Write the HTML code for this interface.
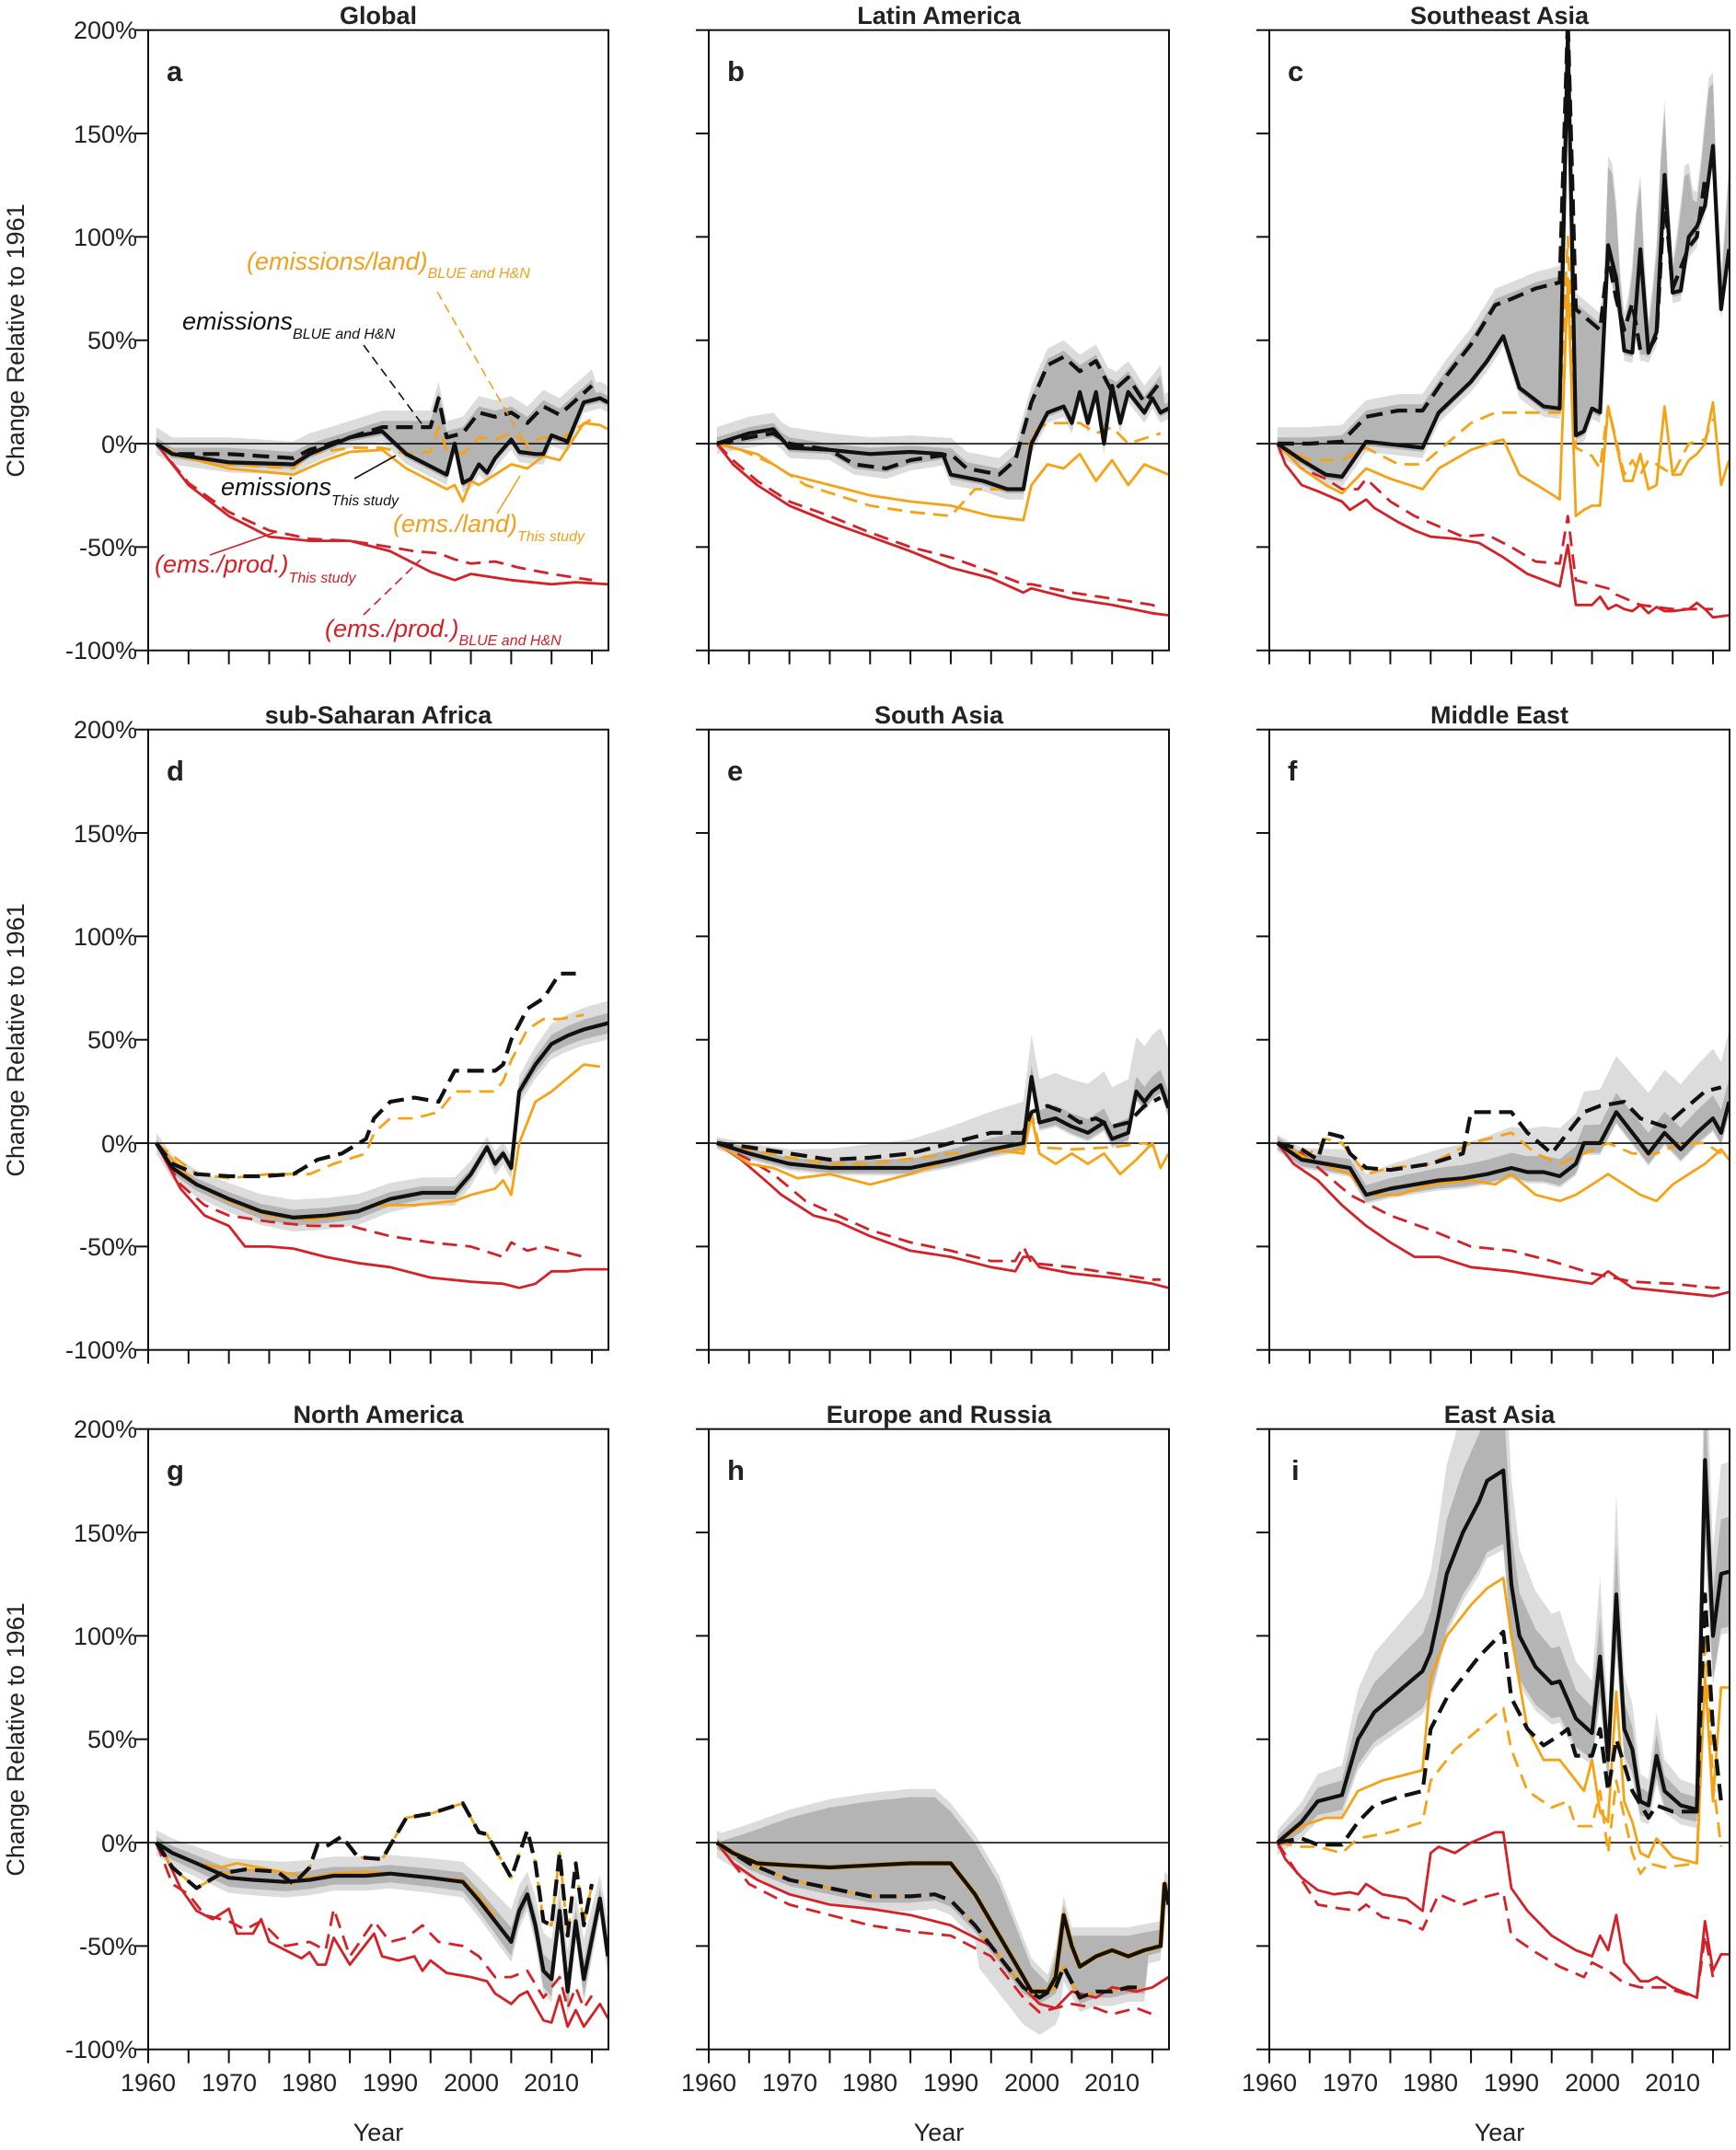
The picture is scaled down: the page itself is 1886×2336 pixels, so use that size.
<!DOCTYPE html>
<html><head><meta charset="utf-8">
<style>
html,body{margin:0;padding:0;background:#fff;}
svg{display:block;font-family:"Liberation Sans",Arial,sans-serif;}
.tl{font-size:27px;fill:#222;}
.ti{font-size:27px;font-weight:bold;fill:#222;}
.lt{font-size:31px;font-weight:bold;fill:#222;}
.it{font-style:italic;}
</style></head>
<body>
<svg id="s" width="1886" height="2336" viewBox="0 0 1886 2336" xmlns="http://www.w3.org/2000/svg">
<rect width="1886" height="2336" fill="#fff"/>
<g id="plots"></g>
<!-- titles -->
<text class="ti" x="411" y="26" text-anchor="middle">Global</text>
<text class="ti" x="1020" y="26" text-anchor="middle">Latin America</text>
<text class="ti" x="1629" y="26" text-anchor="middle">Southeast Asia</text>
<text class="ti" x="411" y="786" text-anchor="middle">sub-Saharan Africa</text>
<text class="ti" x="1020" y="786" text-anchor="middle">South Asia</text>
<text class="ti" x="1629" y="786" text-anchor="middle">Middle East</text>
<text class="ti" x="411" y="1546" text-anchor="middle">North America</text>
<text class="ti" x="1020" y="1546" text-anchor="middle">Europe and Russia</text>
<text class="ti" x="1629" y="1546" text-anchor="middle">East Asia</text>
<!-- letters -->
<text class="lt" x="181" y="88">a</text>
<text class="lt" x="790" y="88">b</text>
<text class="lt" x="1399" y="88">c</text>
<text class="lt" x="181" y="848">d</text>
<text class="lt" x="790" y="848">e</text>
<text class="lt" x="1399" y="848">f</text>
<text class="lt" x="181" y="1608">g</text>
<text class="lt" x="790" y="1608">h</text>
<text class="lt" x="1403" y="1608">i</text>
<!-- y tick labels -->
<g class="tl" text-anchor="end">
<text x="149" y="42">200%</text><text x="149" y="155">150%</text><text x="149" y="267">100%</text><text x="149" y="379">50%</text><text x="149" y="492">0%</text><text x="149" y="604">-50%</text><text x="149" y="716">-100%</text>
<text x="149" y="802">200%</text><text x="149" y="915">150%</text><text x="149" y="1027">100%</text><text x="149" y="1139">50%</text><text x="149" y="1252">0%</text><text x="149" y="1364">-50%</text><text x="149" y="1476">-100%</text>
<text x="149" y="1562">200%</text><text x="149" y="1675">150%</text><text x="149" y="1787">100%</text><text x="149" y="1899">50%</text><text x="149" y="2012">0%</text><text x="149" y="2124">-50%</text><text x="149" y="2236">-100%</text>
</g>
<!-- y axis titles -->
<g class="tl">
<text transform="translate(26,370) rotate(-90)" text-anchor="middle">Change Relative to 1961</text>
<text transform="translate(26,1130) rotate(-90)" text-anchor="middle">Change Relative to 1961</text>
<text transform="translate(26,1890) rotate(-90)" text-anchor="middle">Change Relative to 1961</text>
</g>
<!-- x tick labels -->
<g class="tl" text-anchor="middle">
<text x="161" y="2272">1960</text><text x="249" y="2272">1970</text><text x="336" y="2272">1980</text><text x="424" y="2272">1990</text><text x="512" y="2272">2000</text><text x="599" y="2272">2010</text>
<text x="770" y="2272">1960</text><text x="858" y="2272">1970</text><text x="945" y="2272">1980</text><text x="1033" y="2272">1990</text><text x="1121" y="2272">2000</text><text x="1208" y="2272">2010</text>
<text x="1379" y="2272">1960</text><text x="1467" y="2272">1970</text><text x="1554" y="2272">1980</text><text x="1642" y="2272">1990</text><text x="1730" y="2272">2000</text><text x="1817" y="2272">2010</text>
<text x="411" y="2326">Year</text><text x="1020" y="2326">Year</text><text x="1629" y="2326">Year</text>
</g>
<!-- annotations panel a -->
<g class="it">
<text x="268" y="293" fill="#f0a01e" font-size="27">(emissions/land)<tspan font-size="16" dy="9">BLUE and H&amp;N</tspan></text>
<text x="198" y="358" fill="#111" font-size="27">emissions<tspan font-size="16" dy="10">BLUE and H&amp;N</tspan></text>
<text x="240" y="538" fill="#111" font-size="27">emissions<tspan font-size="16" dy="11">This study</tspan></text>
<text x="427" y="578" fill="#f0a01e" font-size="27">(ems./land)<tspan font-size="16" dy="10">This study</tspan></text>
<text x="168" y="622" fill="#d42027" font-size="27">(ems./prod.)<tspan font-size="16" dy="11">This study</tspan></text>
<text x="353" y="692" fill="#d42027" font-size="27">(ems./prod.)<tspan font-size="16" dy="9">BLUE and H&amp;N</tspan></text>
</g>
<g fill="none" stroke-width="1.6">
<line x1="395" y1="375" x2="460" y2="463" stroke="#111" stroke-dasharray="10,6"/>
<line x1="475" y1="317" x2="575" y2="490" stroke="#f0a01e" stroke-dasharray="10,6"/>
<line x1="385" y1="520" x2="430" y2="495" stroke="#111"/>
<line x1="540" y1="558" x2="565" y2="517" stroke="#f0a01e"/>
<line x1="228" y1="603" x2="300" y2="578" stroke="#d42027"/>
<line x1="395" y1="668" x2="457" y2="608" stroke="#d42027" stroke-dasharray="10,6"/>
</g>
</svg>
<script>
(function(){
var NS="http://www.w3.org/2000/svg";
var T=[32.7,792.7,1552.7],L=[161,770,1379],W=500,H=674,PY=H/300,PX=8.764;
var RED="#d42027",OR="#f5a214",BK="#111";
var root=document.getElementById("plots");
function el(n,a,p){var e=document.createElementNS(NS,n);for(var k in a)e.setAttribute(k,a[k]);(p||root).appendChild(e);return e;}
function itp(s,y){if(!s||y<s[0][0]-1e-9||y>s[s.length-1][0]+1e-9)return null;for(var i=0;i<s.length-1;i++){if(y>=s[i][0]&&y<=s[i+1][0]){var t=(y-s[i][0])/((s[i+1][0]-s[i][0])||1);return s[i][1]+t*(s[i+1][1]-s[i][1]);}}return s[s.length-1][1];}
var P={};
P.a={bs:[[1961,0],[1963,-5],[1970,-9],[1978,-10],[1980,-5],[1985,3],[1989,6],[1992,-5],[1997,-15],[1998,0],[1999,-19],[2000,-17],[2001,-10],[2002,-14],[2003,-7],[2005,2],[2006,-4],[2008,-5],[2009,-5],[2010,4],[2012,1],[2014,20],[2016,22],[2017,20]],
bd:[[1961,0],[1963,-5],[1970,-5],[1978,-7],[1980,-3],[1985,3],[1989,8],[1995,8],[1996,22],[1997,3],[1999,5],[2001,15],[2003,13],[2005,15],[2007,10],[2009,18],[2011,14],[2015,28]],
os:[[1961,0],[1964,-6],[1970,-12],[1978,-15],[1982,-8],[1985,-4],[1989,-3],[1992,-12],[1997,-22],[1998,-20],[1999,-28],[2000,-18],[2001,-20],[2003,-15],[2005,-10],[2007,-12],[2009,-6],[2011,-8],[2014,10],[2016,9],[2017,7]],
od:[[1961,0],[1963,-5],[1970,-10],[1978,-12],[1980,-5],[1985,-2],[1989,-2],[1992,-5],[1995,-4],[1996,8],[1997,-3],[1999,-5],[2001,3],[2003,2],[2005,5],[2007,0],[2009,3],[2011,2],[2015,12]],
rs:[[1961,0],[1965,-20],[1970,-35],[1975,-45],[1980,-47],[1985,-47],[1990,-52],[1995,-62],[1998,-66],[2000,-63],[2005,-66],[2010,-68],[2013,-67],[2017,-68]],
rd:[[1961,0],[1965,-19],[1970,-33],[1975,-42],[1980,-46],[1985,-47],[1990,-50],[1993,-52],[1996,-53],[1998,-56],[2000,-58],[2003,-57],[2006,-60],[2010,-63],[2015,-66]],band:"between"};
P.b={bs:[[1961,0],[1965,5],[1968,7],[1970,-2],[1975,-3],[1980,-5],[1985,-4],[1989,-5],[1990,-15],[1994,-18],[1997,-22],[1999,-22],[2000,0],[2002,15],[2004,18],[2005,10],[2006,25],[2007,10],[2008,25],[2009,0],[2010,28],[2011,10],[2012,25],[2014,15],[2015,22],[2016,15],[2017,17]],
bd:[[1961,0],[1965,3],[1968,5],[1970,0],[1975,-3],[1978,-10],[1982,-12],[1985,-8],[1990,-5],[1992,-12],[1996,-15],[1998,-8],[2000,20],[2002,38],[2004,42],[2006,35],[2008,40],[2010,25],[2012,32],[2014,20],[2016,30]],
os:[[1961,0],[1966,-5],[1970,-15],[1975,-20],[1980,-25],[1985,-28],[1990,-30],[1995,-35],[1999,-37],[2000,-20],[2002,-10],[2004,-12],[2006,-5],[2008,-18],[2010,-8],[2012,-20],[2014,-10],[2017,-15]],
od:[[1961,0],[1964,-3],[1968,-10],[1972,-20],[1980,-30],[1985,-33],[1990,-35],[1993,-22],[1999,-22],[2000,5],[2002,10],[2006,10],[2008,5],[2010,8],[2012,0],[2016,5]],
rs:[[1961,0],[1963,-10],[1966,-20],[1970,-30],[1975,-38],[1980,-45],[1985,-52],[1990,-60],[1995,-65],[1999,-72],[2000,-70],[2005,-75],[2010,-78],[2015,-82],[2017,-83]],
rd:[[1961,0],[1963,-8],[1966,-18],[1970,-28],[1975,-35],[1980,-43],[1985,-50],[1990,-55],[1995,-62],[1999,-68],[2000,-68],[2005,-72],[2010,-75],[2015,-78],[2016,-80]],band:"between"};
P.c={bs:[[1961,0],[1964,-8],[1967,-15],[1969,-16],[1972,1],[1979,-2],[1981,15],[1985,30],[1987,40],[1989,52],[1991,27],[1994,18],[1996,17],[1997,198],[1998,4],[1999,6],[2000,17],[2001,15],[2002,96],[2003,80],[2004,45],[2005,44],[2006,94],[2007,44],[2008,54],[2009,130],[2010,73],[2011,74],[2012,100],[2013,105],[2014,115],[2015,144],[2016,65],[2017,94]],
bd:[[1961,0],[1965,0],[1969,1],[1972,13],[1976,16],[1979,16],[1982,33],[1985,48],[1988,67],[1990,70],[1993,75],[1996,78],[1997,205],[1998,65],[2001,55],[2002,90],[2003,70],[2004,55],[2005,68],[2006,45],[2007,45],[2008,52],[2009,120],[2010,75],[2011,85],[2012,95],[2013,100],[2014,128]],
os:[[1961,0],[1964,-12],[1967,-20],[1969,-24],[1972,-12],[1975,-17],[1979,-22],[1981,-12],[1985,-3],[1988,1],[1989,2],[1991,-15],[1994,-22],[1996,-27],[1997,80],[1998,-35],[1999,-32],[2000,-30],[2001,-30],[2002,18],[2003,0],[2004,-18],[2005,-18],[2006,-5],[2007,-22],[2008,-20],[2009,18],[2010,-15],[2011,-15],[2012,-8],[2013,-5],[2014,0],[2015,20],[2016,-20],[2017,-8]],
od:[[1961,0],[1965,-8],[1969,-8],[1972,-2],[1976,-10],[1979,-10],[1982,0],[1985,10],[1988,15],[1990,15],[1996,15],[1997,100],[1998,-2],[2000,-6],[2001,-12],[2002,18],[2004,-15],[2005,-8],[2006,-15],[2007,-8],[2008,-10],[2010,-15],[2012,0],[2014,2],[2015,12]],
rs:[[1961,0],[1962,-10],[1964,-20],[1966,-23],[1969,-28],[1970,-32],[1972,-27],[1973,-31],[1976,-38],[1978,-42],[1980,-45],[1983,-46],[1986,-48],[1989,-55],[1992,-63],[1996,-69],[1997,-49],[1998,-78],[2000,-78],[2001,-74],[2002,-80],[2003,-78],[2004,-80],[2005,-81],[2006,-78],[2007,-82],[2008,-79],[2009,-81],[2010,-81],[2012,-80],[2013,-77],[2014,-80],[2015,-84],[2017,-83]],
rd:[[1961,0],[1964,-12],[1967,-17],[1969,-22],[1971,-22],[1972,-17],[1975,-28],[1978,-35],[1981,-40],[1984,-45],[1987,-44],[1990,-50],[1993,-57],[1996,-58],[1997,-35],[1998,-66],[2000,-68],[2002,-70],[2003,-73],[2006,-78],[2010,-80],[2015,-80]],band:"between",extra:40};
P.d={bs:[[1961,0],[1963,-12],[1966,-20],[1970,-27],[1974,-33],[1978,-36],[1982,-35],[1986,-33],[1990,-27],[1994,-24],[1998,-24],[2000,-15],[2002,-2],[2003,-10],[2004,-5],[2005,-12],[2006,25],[2008,38],[2010,48],[2012,52],[2014,55],[2017,58]],
bd:[[1961,0],[1963,-10],[1966,-15],[1970,-16],[1974,-16],[1978,-15],[1981,-8],[1984,-5],[1987,2],[1988,12],[1990,20],[1993,22],[1996,20],[1998,35],[2001,35],[2003,35],[2004,38],[2005,50],[2007,65],[2009,70],[2011,82],[2013,82]],
os:[[1961,0],[1966,-20],[1970,-28],[1975,-35],[1980,-37],[1984,-35],[1988,-30],[1993,-30],[1998,-28],[2000,-25],[2003,-22],[2004,-18],[2005,-25],[2006,0],[2008,20],[2010,25],[2014,38],[2016,37]],
od:[[1961,0],[1966,-15],[1970,-17],[1975,-15],[1980,-15],[1983,-10],[1987,-5],[1988,5],[1990,12],[1993,12],[1996,15],[1998,25],[2003,25],[2004,30],[2005,40],[2007,55],[2009,60],[2011,60],[2014,62]],
rs:[[1961,0],[1964,-22],[1967,-35],[1970,-40],[1972,-50],[1975,-50],[1978,-51],[1982,-55],[1986,-58],[1990,-60],[1995,-65],[2000,-67],[2004,-68],[2006,-70],[2008,-68],[2010,-62],[2012,-62],[2014,-61],[2017,-61]],
rd:[[1961,0],[1964,-20],[1967,-30],[1970,-35],[1975,-38],[1980,-40],[1985,-40],[1990,-45],[1995,-48],[2000,-50],[2004,-55],[2005,-48],[2007,-52],[2009,-50],[2012,-53],[2014,-55]],band:[2,0.05,0,5,0.1,0]};
P.e={bs:[[1961,0],[1965,-5],[1970,-10],[1975,-12],[1980,-12],[1985,-12],[1990,-8],[1995,-3],[1999,0],[2000,32],[2001,10],[2003,12],[2005,8],[2007,5],[2009,10],[2010,2],[2012,5],[2013,25],[2014,20],[2015,25],[2016,28],[2017,17]],
bd:[[1961,0],[1965,-2],[1970,-5],[1975,-8],[1980,-7],[1985,-5],[1990,0],[1995,5],[1999,5],[2000,15],[2002,18],[2004,15],[2006,10],[2008,12],[2010,8],[2012,10],[2014,18],[2016,22]],
os:[[1961,0],[1965,-10],[1968,-12],[1971,-17],[1975,-15],[1980,-20],[1985,-15],[1990,-8],[1995,-3],[1999,-5],[2000,13],[2001,-5],[2003,-10],[2005,-5],[2007,-10],[2009,-5],[2011,-15],[2013,-8],[2015,0],[2016,-12],[2017,-5]],
od:[[1961,0],[1965,-3],[1970,-7],[1975,-10],[1980,-10],[1990,-5],[1999,-3],[2000,15],[2001,-2],[2005,-3],[2010,-2],[2014,0],[2016,-3]],
rs:[[1961,0],[1964,-8],[1967,-18],[1969,-25],[1971,-30],[1973,-35],[1976,-38],[1980,-45],[1985,-52],[1990,-55],[1995,-60],[1998,-62],[1999,-55],[2000,-55],[2001,-60],[2005,-63],[2010,-65],[2015,-68],[2017,-70]],
rd:[[1961,0],[1965,-8],[1968,-15],[1972,-28],[1976,-35],[1980,-42],[1985,-48],[1990,-52],[1995,-57],[1998,-57],[1999,-50],[2000,-58],[2005,-60],[2010,-63],[2015,-66],[2016,-66]],band:[2,0,0.1,3,0,0.45]};
P.f={bs:[[1961,0],[1964,-8],[1967,-10],[1970,-12],[1972,-25],[1975,-22],[1978,-20],[1981,-18],[1984,-17],[1987,-15],[1990,-12],[1992,-14],[1994,-14],[1996,-16],[1998,-10],[1999,0],[2001,0],[2003,15],[2005,5],[2007,-5],[2009,5],[2011,-3],[2013,5],[2015,12],[2016,5],[2017,20]],
bd:[[1961,0],[1964,-3],[1966,-8],[1967,5],[1969,3],[1970,-5],[1972,-12],[1975,-13],[1980,-10],[1984,-5],[1985,15],[1990,15],[1992,5],[1995,-5],[1997,5],[1999,15],[2001,18],[2004,20],[2006,12],[2009,8],[2011,15],[2014,25],[2016,27]],
os:[[1961,0],[1965,-8],[1970,-15],[1972,-25],[1976,-25],[1980,-20],[1985,-18],[1988,-20],[1990,-15],[1993,-25],[1996,-28],[1998,-25],[2000,-20],[2002,-15],[2004,-20],[2006,-25],[2008,-28],[2010,-20],[2012,-15],[2014,-10],[2016,-3],[2017,-8]],
od:[[1961,0],[1965,-5],[1967,2],[1969,0],[1972,-15],[1975,-12],[1980,-10],[1985,0],[1990,5],[1993,-5],[1996,-10],[1999,-5],[2002,0],[2005,-5],[2008,-5],[2011,0],[2014,0],[2016,-5]],
rs:[[1961,0],[1963,-10],[1966,-18],[1969,-30],[1972,-40],[1975,-48],[1978,-55],[1981,-55],[1985,-60],[1990,-62],[1995,-65],[2000,-68],[2002,-62],[2005,-70],[2010,-72],[2015,-74],[2017,-72]],
rd:[[1961,0],[1964,-5],[1967,-15],[1970,-25],[1975,-35],[1980,-42],[1985,-50],[1990,-52],[1995,-57],[2000,-63],[2005,-67],[2010,-68],[2015,-70],[2016,-70]],band:[3,0,0.15,4,0,0.55]};
var gd=[[1961,0],[1963,-12],[1966,-22],[1969,-15],[1972,-13],[1976,-14],[1978,-20],[1980,-12],[1981,-1],[1982,-2],[1984,3],[1986,-7],[1989,-8],[1992,12],[1995,14],[1999,19],[2001,5],[2002,4],[2005,-17],[2007,6],[2008,-10],[2009,-38],[2010,-40],[2011,-5],[2012,-45],[2013,-10],[2014,-40],[2015,-20]];
P.g={bs:[[1961,0],[1963,-5],[1966,-10],[1970,-17],[1973,-18],[1977,-19],[1980,-18],[1983,-16],[1987,-16],[1990,-15],[1995,-17],[1999,-19],[2001,-28],[2003,-38],[2005,-48],[2006,-33],[2007,-25],[2008,-40],[2009,-62],[2010,-66],[2011,-33],[2012,-72],[2013,-38],[2014,-66],[2016,-27],[2017,-55]],
bd:gd,od:gd,
os:[[1961,0],[1963,-5],[1966,-10],[1969,-12],[1971,-10],[1975,-13],[1980,-17],[1983,-15],[1987,-14],[1990,-15],[1995,-17],[1999,-18],[2001,-26],[2003,-36]],
rs:[[1961,0],[1962,-5],[1964,-22],[1966,-33],[1968,-37],[1970,-32],[1971,-44],[1973,-44],[1974,-37],[1975,-48],[1977,-52],[1979,-56],[1980,-53],[1981,-59],[1982,-59],[1983,-46],[1985,-59],[1988,-44],[1989,-55],[1991,-57],[1993,-55],[1994,-62],[1995,-57],[1997,-63],[2000,-65],[2002,-67],[2003,-73],[2005,-78],[2006,-74],[2007,-72],[2009,-86],[2010,-87],[2011,-74],[2012,-89],[2013,-81],[2014,-89],[2016,-78],[2017,-85]],
rd:[[1961,0],[1963,-20],[1965,-25],[1967,-35],[1970,-38],[1972,-42],[1974,-38],[1977,-50],[1980,-48],[1982,-52],[1983,-32],[1985,-55],[1988,-38],[1990,-48],[1992,-46],[1994,-40],[1996,-48],[1999,-50],[2001,-55],[2003,-65],[2005,-65],[2007,-62],[2009,-75],[2011,-65],[2012,-80],[2013,-70],[2014,-80],[2015,-74]],band:[3,0.08,0,6,0.2,0]};
var hs=[[1961,0],[1963,-5],[1966,-10],[1970,-11],[1975,-12],[1980,-11],[1985,-10],[1990,-10],[1993,-25],[1996,-45],[1999,-65],[2000,-72],[2002,-72],[2003,-65],[2004,-35],[2005,-50],[2006,-60],[2008,-55],[2010,-52],[2012,-55],[2014,-52],[2016,-50],[2016.5,-20],[2017,-30]];
var hd=[[1961,0],[1965,-10],[1970,-18],[1975,-22],[1980,-26],[1985,-26],[1988,-25],[1990,-28],[1993,-40],[1996,-55],[1999,-70],[2001,-75],[2003,-70],[2004,-60],[2006,-75],[2008,-72],[2010,-72],[2012,-70],[2014,-70]];
P.h={bs:hs,bd:hd,os:hs,od:hd,
rs:[[1961,0],[1963,-10],[1966,-18],[1970,-25],[1975,-30],[1980,-32],[1985,-35],[1990,-40],[1995,-50],[1999,-70],[2001,-78],[2003,-80],[2005,-72],[2008,-75],[2010,-70],[2013,-72],[2015,-70],[2017,-65]],
rd:[[1961,0],[1965,-20],[1970,-30],[1975,-35],[1980,-40],[1985,-43],[1990,-45],[1995,-55],[1999,-75],[2001,-82],[2003,-80],[2005,-78],[2008,-80],[2010,-83],[2013,-80],[2015,-83]],
band:"h",hup:[[1961,0],[1965,5],[1970,12],[1975,17],[1980,20],[1985,22],[1988,22],[1990,15],[1993,0],[1996,-20],[1998,-40],[2000,-60],[2002,-68],[2003,-55],[2004,-30],[2005,-45],[2008,-45],[2012,-45],[2016,-42],[2017,-20]]};
P.i={bs:[[1961,0],[1964,10],[1966,20],[1969,23],[1971,50],[1973,63],[1976,73],[1979,83],[1980,92],[1981,110],[1982,130],[1984,150],[1986,165],[1987,175],[1989,180],[1990,125],[1991,100],[1993,85],[1995,77],[1996,78],[1998,60],[2000,53],[2001,90],[2002,40],[2003,120],[2004,55],[2005,45],[2006,20],[2007,18],[2008,42],[2009,25],[2011,18],[2013,16],[2014,185],[2015,100],[2016,130],[2017,131]],
bd:[[1961,0],[1964,2],[1966,-1],[1969,-1],[1971,10],[1973,18],[1976,22],[1979,25],[1980,55],[1982,70],[1984,80],[1986,90],[1989,102],[1990,70],[1992,55],[1994,47],[1996,52],[1997,55],[1998,42],[2000,42],[2001,55],[2002,25],[2003,50],[2005,25],[2007,12],[2008,18],[2010,15],[2013,15],[2014,120],[2015,55],[2016,20]],
os:[[1961,0],[1964,8],[1967,12],[1969,12],[1971,25],[1974,30],[1977,33],[1979,35],[1980,80],[1982,100],[1985,115],[1987,123],[1989,128],[1990,100],[1992,55],[1994,40],[1996,40],[1997,35],[1999,25],[2000,40],[2001,15],[2002,10],[2003,73],[2004,20],[2005,10],[2006,-5],[2007,-7],[2008,2],[2010,-7],[2013,-10],[2014,80],[2015,20],[2016,75],[2017,75]],
od:[[1961,0],[1964,-2],[1966,-2],[1969,-5],[1971,2],[1975,5],[1979,10],[1980,30],[1983,45],[1986,55],[1989,65],[1990,45],[1992,25],[1995,17],[1997,20],[1998,8],[2000,8],[2001,25],[2002,-5],[2003,30],[2005,-5],[2006,-15],[2007,-10],[2009,-12],[2013,-10],[2014,100],[2015,30],[2016,-2]],
rs:[[1961,0],[1962,-8],[1964,-17],[1966,-23],[1968,-25],[1970,-24],[1971,-25],[1972,-20],[1974,-25],[1977,-27],[1979,-33],[1980,-5],[1981,-2],[1983,-5],[1985,0],[1988,5],[1989,5],[1990,-22],[1992,-33],[1995,-45],[1998,-52],[2000,-55],[2001,-45],[2002,-52],[2003,-35],[2004,-58],[2006,-67],[2007,-67],[2008,-65],[2010,-70],[2013,-75],[2014,-38],[2015,-62],[2016,-54],[2017,-54]],
rd:[[1961,0],[1963,-12],[1966,-30],[1969,-32],[1971,-33],[1972,-30],[1974,-36],[1977,-38],[1979,-42],[1981,-25],[1984,-30],[1987,-26],[1989,-24],[1990,-45],[1993,-53],[1996,-60],[1999,-65],[2000,-58],[2002,-62],[2004,-68],[2006,-70],[2009,-70],[2013,-75],[2014,-45],[2015,-65]],band:[3,0.18,0,6,0.36,0]};
var order=["a","b","c","d","e","f","g","h","i"];
var defs=el("defs",{});
order.forEach(function(k,idx){
 var c=idx%3,r=Math.floor(idx/3),x0=L[c],y0=T[r];
 var X=function(y){return x0+(y-1960)*PX;},Y=function(v){return y0+(200-v)*PY;};
 var cp=el("clipPath",{id:"cp"+k},defs);el("rect",{x:x0,y:y0,width:W,height:H},cp);
 var g=el("g",{"clip-path":"url(#cp"+k+")"});
 var p=P[k];
 // bands
 var yrs=[];for(var y=1961;y<=2017;y+=0.5)yrs.push(y);
 var dl=[],dh=[],ll=[],lh=[];
 yrs.forEach(function(y){
  var s=itp(p.bs,y);if(s===null)return;var d=itp(p.bd,y);var t=y-1961;var lo,hi,lo2,hi2;
  if(p.band==="between"){var mn=d===null?s:Math.min(s,d),mx=d===null?s:Math.max(s,d);
    if(p.extra&&y>=2002){mx=Math.max(mx,s+p.extra*(0.6+0.4*Math.sin(y*2.1)));}
    lo=mn-2;hi=mx+3;lo2=lo-3;hi2=hi+5;}
  else if(p.band==="h"){var u=itp(p.hup,y);var mn2=d===null?s:Math.min(s,d);lo=mn2-3;hi=Math.max(u,s+2);lo2=lo-(y>1993&&y<2004?15:4);hi2=hi+4;}
  else{var b=p.band,a=Math.abs(s);lo=s-b[0]-b[1]*a;hi=s+b[0]+b[1]*a+b[2]*t;lo2=s-b[3]-b[4]*a;hi2=s+b[3]+b[4]*a+b[5]*t;lo=s-b[0]-b[1]*a-b[2]*t*0.3;lo2=lo-b[3]+b[0];}
  dl.push([X(y),Y(lo)]);dh.push([X(y),Y(hi)]);ll.push([X(y),Y(lo2)]);lh.push([X(y),Y(hi2)]);
 });
 function poly(up,dn,col){var pts=up.concat(dn.slice().reverse()).map(function(q){return q[0].toFixed(1)+","+q[1].toFixed(1);}).join(" ");el("polygon",{points:pts,fill:col,stroke:"none"},g);}
 poly(lh,ll,"#dcdcdc");poly(dh,dl,"#b4b4b4");
 el("line",{x1:x0,x2:x0+W,y1:Y(0),y2:Y(0),stroke:"#111","stroke-width":1.6},g);
 function line(s,col,w,dash,off){if(!s)return;var d=s.map(function(q,i){return (i?"L":"M")+X(q[0]).toFixed(1)+","+Y(q[1]).toFixed(1);}).join("");var a={d:d,fill:"none",stroke:col,"stroke-width":w,"stroke-linejoin":"round"};if(dash){a["stroke-dasharray"]=dash;if(off)a["stroke-dashoffset"]=off;}el("path",a,g);}
 line(p.rd,RED,2.8,"16,9");line(p.rs,RED,2.8);
 line(p.od,OR,2.8,"16,9",(k==="g"||k==="h")?6:0);line(p.os,OR,(k==="h")?5.5:2.8);
 line(p.bd,BK,4.2,"18,9");line(p.bs,BK,4.2);
 // frame
 el("rect",{x:x0,y:y0,width:W,height:H,fill:"none",stroke:"#111","stroke-width":2});
 for(var v=-100;v<=200;v+=50){el("line",{x1:x0-14,x2:x0,y1:Y(v),y2:Y(v),stroke:"#111","stroke-width":2});}
 for(var yy=1960;yy<=2015;yy+=5){el("line",{x1:X(yy),x2:X(yy),y1:y0+H,y2:y0+H+15,stroke:"#111","stroke-width":2});}
});
})();
</script>
</body></html>
